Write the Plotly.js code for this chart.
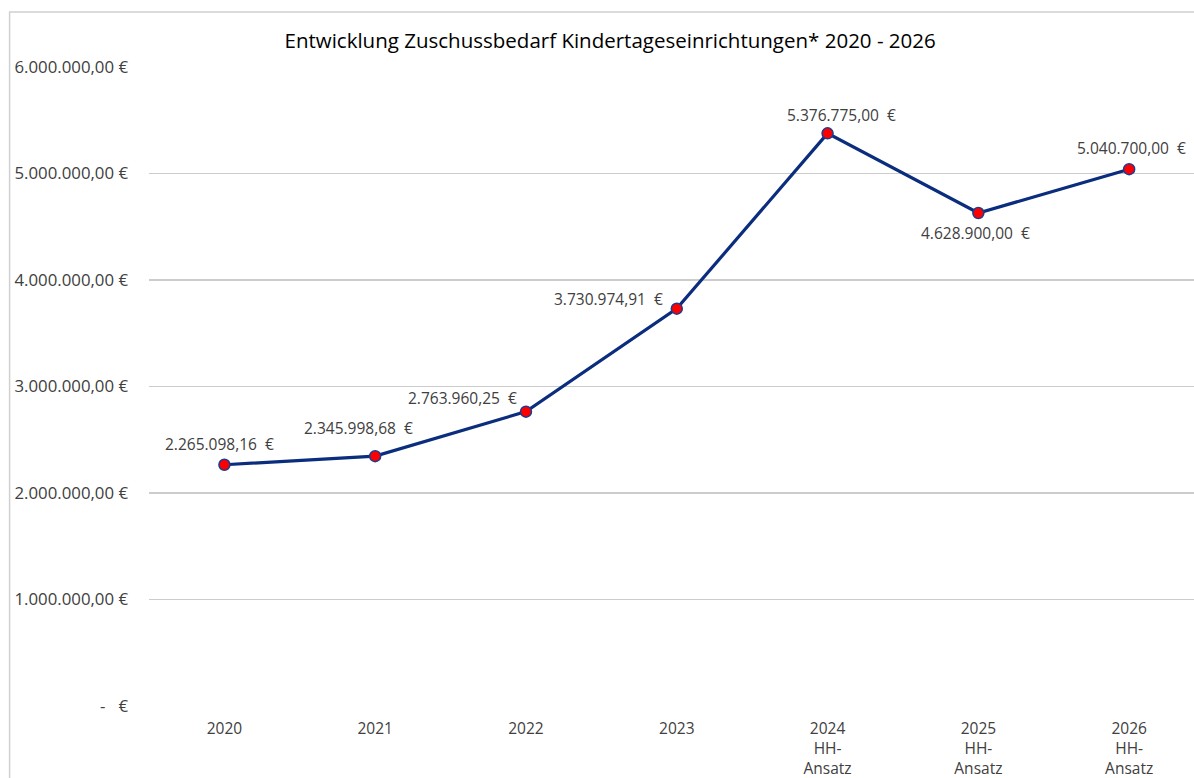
<!DOCTYPE html>
<html>
<head>
<meta charset="utf-8">
<script src="https://cdn.plot.ly/plotly-3.0.1.min.js"></script>
<style>
html,body{margin:0;padding:0;background:#fff;}
#chart{width:1194px;height:778px;}
</style>
</head>
<body>
<div id="chart"></div>
<script>
const categories = ["2020", "2021", "2022", "2023", "2024<br>HH-<br>Ansatz", "2025<br>HH-<br>Ansatz", "2026<br>HH-<br>Ansatz"];
const values = [2265098.16, 2345998.68, 2763960.25, 3730974.91, 5376775.00, 4628900.00, 5040700.00];
const valueLabels = ["2.265.098,16 \u00a0€", "2.345.998,68 \u00a0€", "2.763.960,25 \u00a0€", "3.730.974,91 \u00a0€", "5.376.775,00 \u00a0€", "4.628.900,00 \u00a0€", "5.040.700,00 \u00a0€"];
const yTickVals = [0, 1000000, 2000000, 3000000, 4000000, 5000000, 6000000];
const yTickText = ["-\u00a0\u00a0\u00a0€", "1.000.000,00 €", "2.000.000,00 €", "3.000.000,00 €", "4.000.000,00 €", "5.000.000,00 €", "6.000.000,00 €"];
const chartTitle = "Entwicklung Zuschussbedarf Kindertageseinrichtungen* 2020 - 2026";

const FONT = "'Open Sans', Lato, sans-serif";
const TXT = "#404040";
const labelShift = [[-5, 21], [-17, 28], [-63, 14], [-68, 10], [14, 18], [-3, -20], [2, 21]];

const annotations = categories.map((c, i) => ({
  x: i, y: values[i], xref: "x", yref: "y",
  text: valueLabels[i], showarrow: false,
  xanchor: "center", yanchor: "middle",
  xshift: labelShift[i][0], yshift: labelShift[i][1],
  font: {family: FONT, size: 15.5, color: TXT}
}));

const trace = {
  x: categories.map((c, i) => i),
  y: values,
  type: "scatter",
  mode: "lines+markers",
  line: {color: "#0a2d7d", width: 3.2},
  marker: {color: "#ff0000", size: 11, line: {color: "#1f3c8c", width: 1.5}},
  hoverinfo: "skip",
  cliponaxis: false
};

const layout = {
  width: 1194, height: 778,
  margin: {l: 148.5, r: 0, t: 67, b: 72, pad: 0},
  paper_bgcolor: "#ffffff", plot_bgcolor: "#ffffff",
  showlegend: false,
  title: {
    text: chartTitle,
    font: {family: FONT, size: 20.5, color: "#000000"},
    x: 0.511, xref: "container", xanchor: "center",
    y: 0.948, yref: "container", yanchor: "middle"
  },
  xaxis: {
    range: [-0.5, 6.43],
    tickmode: "array",
    tickvals: categories.map((c, i) => i),
    ticktext: categories,
    showgrid: false, zeroline: false, showline: false,
    ticks: "", ticklen: 0, ticklabelstandoff: 11,
    tickfont: {family: FONT, size: 15.5, color: TXT},
    fixedrange: true
  },
  yaxis: {
    range: [0, 6000000],
    tickmode: "array",
    tickvals: yTickVals,
    ticktext: yTickText,
    showgrid: true, gridcolor: "#cccccc", gridwidth: 1.5,
    zeroline: false, showline: false,
    ticks: "", ticklabelstandoff: 20,
    tickfont: {family: FONT, size: 16.8, color: TXT},
    fixedrange: true
  },
  shapes: [{
    type: "rect", xref: "paper", yref: "paper",
    x0: -0.1334, x1: 1.05, y0: -0.3, y1: 1.0861,
    line: {color: "#d0d0d0", width: 1.5}, fillcolor: "rgba(0,0,0,0)",
    layer: "below"
  }],
  annotations: annotations
};

Plotly.newPlot("chart", [trace], layout, {displayModeBar: false, staticPlot: true});
</script>
</body>
</html>
